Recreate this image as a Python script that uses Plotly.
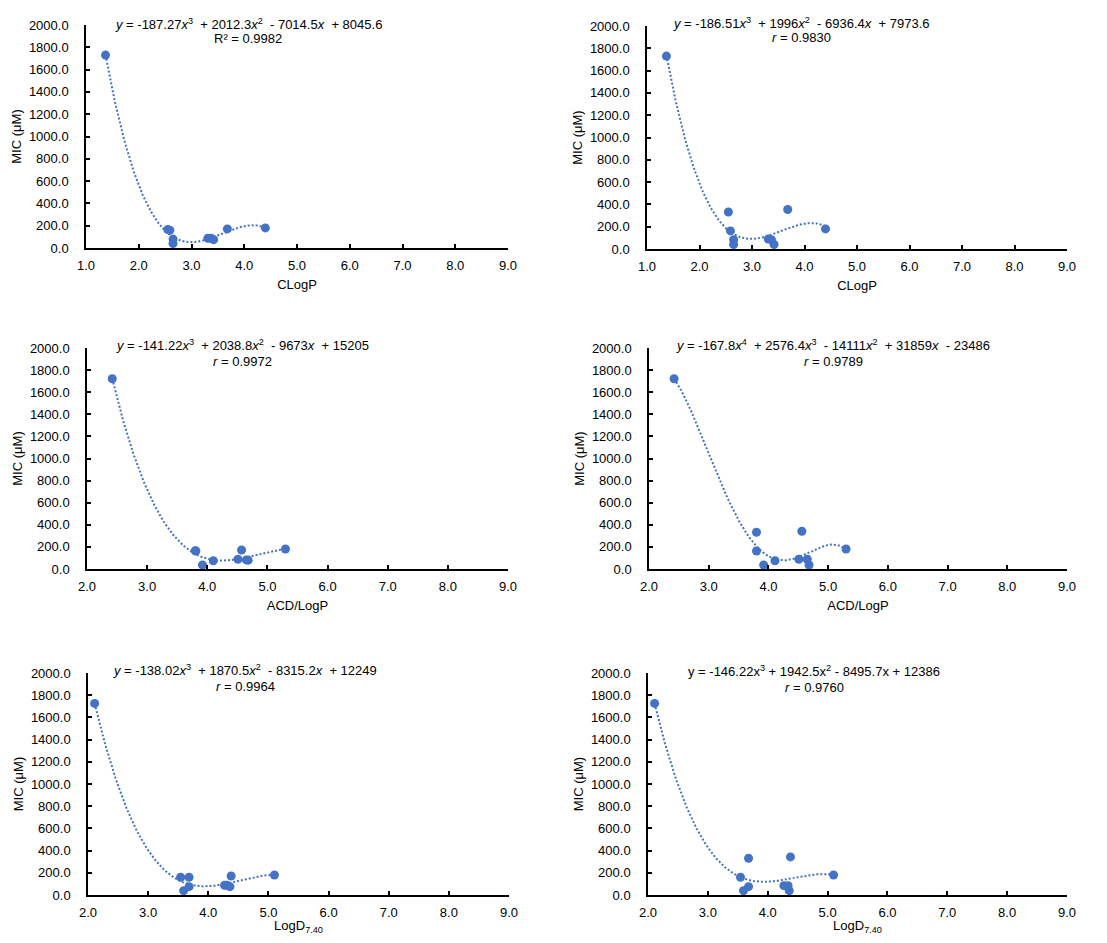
import numpy as np
import plotly.graph_objects as go

OFF = 8  # default page body margin
W, H = 1107 - 2 * OFF, 943 - 2 * OFF

# ---- data ----
clogp = [1.37, 2.55, 2.59, 2.65, 2.65, 3.31, 3.37, 3.42, 3.68, 4.40]
mic_a1 = [1730, 165, 160, 80, 40, 87, 87, 75, 171, 180]
mic_b1 = [1730, 332, 162, 84, 40, 90, 84, 40, 354, 180]

acd = [2.42, 3.80, 3.81, 3.92, 4.10, 4.51, 4.57, 4.65, 4.68, 5.30]
acd_b = [2.42, 3.80, 3.80, 3.92, 4.11, 4.51, 4.56, 4.65, 4.68, 5.30]
mic_a2 = [1722, 165, 163, 36, 75, 88, 172, 82, 80, 181]
mic_b2 = [1722, 333, 163, 36, 75, 88, 342, 88, 36, 181]

logd = [2.11, 3.54, 3.59, 3.68, 3.68, 4.27, 4.31, 4.36, 4.38, 5.10]
logd_b = [2.11, 3.545, 3.595, 3.68, 3.68, 4.27, 4.34, 4.36, 4.38, 5.10]
mic_a3 = [1726, 160, 39, 75, 160, 87, 87, 75, 171, 180]
mic_b3 = [1726, 160, 39, 75, 331, 84, 84, 39, 343, 180]

eq_texts = [
    ("<i>y</i> = -187.27<i>x</i><sup>3</sup>  + 2012.3<i>x</i><sup>2</sup>  - 7014.5<i>x</i>  + 8045.6", "R² = 0.9982"),
    ("<i>y</i> = -186.51<i>x</i><sup>3</sup>  + 1996<i>x</i><sup>2</sup>  - 6936.4<i>x</i>  + 7973.6", "<i>r</i> = 0.9830"),
    ("<i>y</i> = -141.22<i>x</i><sup>3</sup>  + 2038.8<i>x</i><sup>2</sup>  - 9673<i>x</i>  + 15205", "<i>r</i> = 0.9972"),
    ("<i>y</i> = -167.8<i>x</i><sup>4</sup>  + 2576.4<i>x</i><sup>3</sup>  - 14111<i>x</i><sup>2</sup>  + 31859<i>x</i>  - 23486", "<i>r</i> = 0.9789"),
    ("<i>y</i> = -138.02<i>x</i><sup>3</sup>  + 1870.5<i>x</i><sup>2</sup>  - 8315.2<i>x</i>  + 12249", "<i>r</i> = 0.9964"),
    ("y = -146.22x<sup>3</sup> + 1942.5x<sup>2</sup> - 8495.7x + 12386", "<i>r</i> = 0.9760"),
]
xtitles = ["CLogP", "CLogP", "ACD/LogP", "ACD/LogP", "LogD<sub>7.40</sub>", "LogD<sub>7.40</sub>"]
xranges = [[1, 9], [1, 9], [2, 9], [2, 9], [2, 9], [2, 9]]
degrees = [3, 3, 3, 4, 3, 3]
xs = [clogp, clogp, acd, acd_b, logd, logd_b]
ys = [mic_a1, mic_b1, mic_a2, mic_b2, mic_a3, mic_b3]

# pixel boxes of plot areas in the window: (left, right, top, bottom)
boxes = [
    (86, 508, 25, 248), (647, 1067, 26, 249),
    (87, 508, 348, 569), (649, 1067, 348, 569),
    (88, 509, 673, 895), (648, 1067, 673, 895),
]
# (center x, line1 center y, line2 center y)
eq_pos = [(248, 24, 39), (801, 23, 38), (242, 345, 361), (833, 345, 361),
          (245, 670, 686), (814, 671, 687)]

COLOR = "#4472C4"
FONT = "Liberation Sans, Arial, sans-serif"


def px_x(p):
    return (p - OFF) / W


def px_y(p):
    return 1 - (p - OFF) / H


fig = go.Figure()
annotations = []
for i in range(6):
    n = "" if i == 0 else str(i + 1)
    xa, ya = "x" + n, "y" + n
    x = np.array(xs[i], dtype=float)
    y = np.array(ys[i], dtype=float)
    coef = np.polyfit(x, y, degrees[i])
    xx = np.linspace(x.min(), x.max(), 200)
    yy = np.polyval(coef, xx)
    fig.add_trace(go.Scatter(x=xx, y=yy, mode="lines", xaxis=xa, yaxis=ya,
                             line=dict(color=COLOR, width=2, dash="2px,2px"),
                             hoverinfo="skip", showlegend=False))
    fig.add_trace(go.Scatter(x=x, y=y, mode="markers", xaxis=xa, yaxis=ya,
                             marker=dict(color=COLOR, size=9),
                             showlegend=False))
    l, r, t, b = boxes[i]
    axcommon = dict(showline=True, linecolor="#000000", linewidth=1.5,
                    ticks="inside", ticklen=4, tickcolor="#000000", tickwidth=1.5,
                    showgrid=False, zeroline=False, automargin=False,
                    tickfont=dict(family=FONT, size=13, color="#000000"))
    fig.layout["xaxis" + n] = dict(
        domain=[px_x(l), px_x(r)], anchor=ya, range=xranges[i], dtick=1,
        tickformat=".1f", ticklabelstandoff=5,
        title=dict(text=xtitles[i], font=dict(family=FONT, size=13, color="#000000"), standoff=8),
        **axcommon)
    fig.layout["yaxis" + n] = dict(
        domain=[px_y(b), px_y(t)], anchor=xa, range=[0, 2000], dtick=200,
        tickformat=".1f", ticklabelstandoff=13,
        title=dict(text="MIC (μM)", font=dict(family=FONT, size=13, color="#000000"), standoff=4),
        **axcommon)
    ex, ey1, ey2 = eq_pos[i]
    for txt, ey in zip(eq_texts[i], (ey1, ey2)):
        annotations.append(dict(x=px_x(ex), y=px_y(ey), xref="paper", yref="paper",
                                text=txt, showarrow=False,
                                xanchor="center", yanchor="middle", align="center",
                                font=dict(family=FONT, size=13, color="#000000")))

fig.update_layout(width=W, height=H, margin=dict(l=0, r=0, t=0, b=0),
                  paper_bgcolor="white", plot_bgcolor="white",
                  annotations=annotations)
fig.write_html("out.html")
